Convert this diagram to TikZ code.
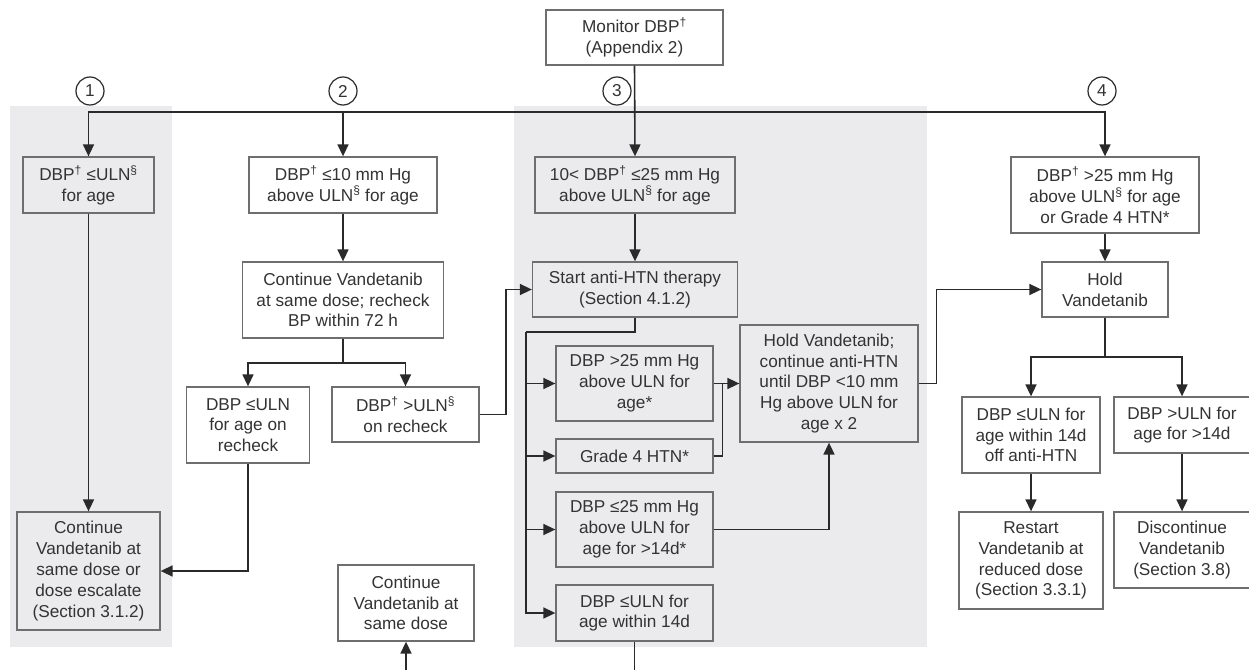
\documentclass[tikz,border=0pt]{standalone}
\usepackage{fontspec}
\setmainfont{Liberation Sans}
\usetikzlibrary{arrows.meta,calc}
\definecolor{panel}{HTML}{EBEBED}
\definecolor{boxline}{HTML}{6E6E6E}
\definecolor{ink}{HTML}{2A2A2A}
\definecolor{txt}{HTML}{333333}
\newcommand\dgr{\textsuperscript{†}}
\newcommand\secm{\textsuperscript{§}}
\begin{document}
\begin{tikzpicture}[x=1pt,y=-1pt,
 font=\fontsize{17.2}{20.8}\selectfont,
 box/.style={rectangle, draw=boxline, line width=1.3pt, text=txt, align=center, inner sep=0pt},
 wbox/.style={box, fill=white},
 arr/.style={draw=ink, line width=1.6pt, -{Triangle[length=12pt,width=11pt]}},
 ln/.style={draw=ink, line width=1.6pt},
 num/.style={circle, draw=ink, line width=1.2pt, minimum size=28pt, inner sep=0pt, text=txt}
]
\useasboundingbox (0,0) rectangle (1249,669);
% panels
\fill[panel] (10,106) rectangle (172,647);
\fill[panel] (514,106) rectangle (927,647);

% nodes
\node[wbox, minimum width=177pt, minimum height=55pt] (monitor) at (634.5,37.5) {Monitor DBP\dgr\\(Appendix 2)};
\node[box, minimum width=131pt, minimum height=56pt] (b1) at (88.5,185) {DBP\dgr{} ≤ULN\secm\\for age};
\node[wbox, minimum width=188pt, minimum height=56pt] (b2) at (343,185) {DBP\dgr{} ≤10 mm Hg\\above ULN\secm{} for age};
\node[box, minimum width=200pt, minimum height=56pt] (b3) at (635,185) {10< DBP\dgr{} ≤25 mm Hg\\above ULN\secm{} for age};
\node[wbox, minimum width=188pt, minimum height=76pt] (b4) at (1105,195) {DBP\dgr{} >25 mm Hg\\above ULN\secm{} for age\\or Grade 4 HTN*};
\node[wbox, minimum width=201pt, minimum height=76pt] (cont2) at (343,300) {Continue Vandetanib\\at same dose; recheck\\BP within 72 h};
\node[wbox, minimum width=123pt, minimum height=76pt] (rok) at (248,425) {DBP ≤ULN\\for age on\\recheck};
\node[wbox, minimum width=147pt, minimum height=55pt] (rhigh) at (405.5,414.5) {DBP\dgr{} >ULN\secm\\on recheck};
\node[box, minimum width=205pt, minimum height=55pt] (start) at (635,289.5) {Start anti-HTN therapy\\(Section 4.1.2)};
\node[box, minimum width=157pt, minimum height=75pt] (g25) at (634.5,383.5) {DBP >25 mm Hg\\above ULN for\\age*};
\node[box, minimum width=157pt, minimum height=34pt] (grade4) at (634.5,456) {Grade 4 HTN*};
\node[box, minimum width=157pt, minimum height=75pt] (le25) at (634.5,529.5) {DBP ≤25 mm Hg\\above ULN for\\age for >14d*};
\node[box, minimum width=157pt, minimum height=56pt] (w14) at (634.5,613) {DBP ≤ULN for\\age within 14d};
\node[box, minimum width=178pt, minimum height=117pt] (holdA) at (829,383.5) {Hold Vandetanib;\\continue anti-HTN\\until DBP <10 mm\\Hg above ULN for\\age x 2};
\node[wbox, minimum width=126pt, minimum height=55pt] (holdV) at (1105,289.5) {Hold\\Vandetanib};
\node[wbox, minimum width=138pt, minimum height=76pt] (off14) at (1031,435) {DBP ≤ULN for\\age within 14d\\off anti-HTN};
\node[wbox, minimum width=136pt, minimum height=56pt] (gt14) at (1182,425) {DBP >ULN for\\age for >14d};
\node[wbox, minimum width=144pt, minimum height=97pt] (restart) at (1031,560.5) {Restart\\Vandetanib at\\reduced dose\\(Section 3.3.1)};
\node[wbox, minimum width=136pt, minimum height=76pt] (discont) at (1182,550) {Discontinue\\Vandetanib\\(Section 3.8)};
\node[box, minimum width=143pt, minimum height=118pt] (contEsc) at (88.5,571) {Continue\\Vandetanib at\\same dose or\\dose escalate\\(Section 3.1.2)};
\node[wbox, minimum width=136pt, minimum height=76pt] (contSame) at (406,603) {Continue\\Vandetanib at\\same dose};

% numbered circles
\node[num] (n1) at (90,91) {1};
\node[num] (n2) at (343,91) {2};
\node[num] (n3) at (617,91) {3};
\node[num] (n4) at (1102,91) {4};

% connectors
\coordinate (bus) at (635,112);
\draw[arr] (monitor.south) -- (b3.north);
\draw[arr] (bus) -| (b1.north);
\draw[arr] (bus) -| (b2.north);
\draw[arr] (bus) -| (b4.north);

\draw[arr] (b1.south) -- (contEsc.north);
\draw[arr] (b2.south) -- (cont2.north);
\coordinate (s2) at (343,363);
\draw[ln] (cont2.south) -- (s2);
\draw[arr] (s2) -| (rok.north);
\draw[arr] (s2) -| (rhigh.north);
\draw[arr] (rok.south) |- (contEsc.east);
\draw[arr] (rhigh.east) -- ++(26.5,0) |- (start.west);

\draw[arr] (b3.south) -- (start.north);
\coordinate (spine) at (526,332);
\draw[ln] (start.south) |- (spine);
\draw[arr] (spine) |- (w14.west);
\draw[arr] (spine |- g25.west) -- (g25.west);
\draw[arr] (spine |- grade4.west) -- (grade4.west);
\draw[arr] (spine |- le25.west) -- (le25.west);

\draw[arr] (g25.east) -- (holdA.west);
\coordinate (jg) at ($(g25.east)+(9,0)$);
\draw[ln] (grade4.east) -| (jg);
\draw[arr] (le25.east) -| (holdA.south);
\draw[arr] (w14.south) -- ++(0,50) -| (contSame.south);

\draw[arr] (holdA.east) -- ++(18,0) |- (holdV.west);
\draw[arr] (b4.south) -- (holdV.north);
\coordinate (s4) at (1105,357);
\draw[ln] (holdV.south) -- (s4);
\draw[arr] (s4) -| (off14.north);
\draw[arr] (s4) -| (gt14.north);
\draw[arr] (off14.south) -- (restart.north);
\draw[arr] (gt14.south) -- (discont.north);
\end{tikzpicture}
\end{document}
